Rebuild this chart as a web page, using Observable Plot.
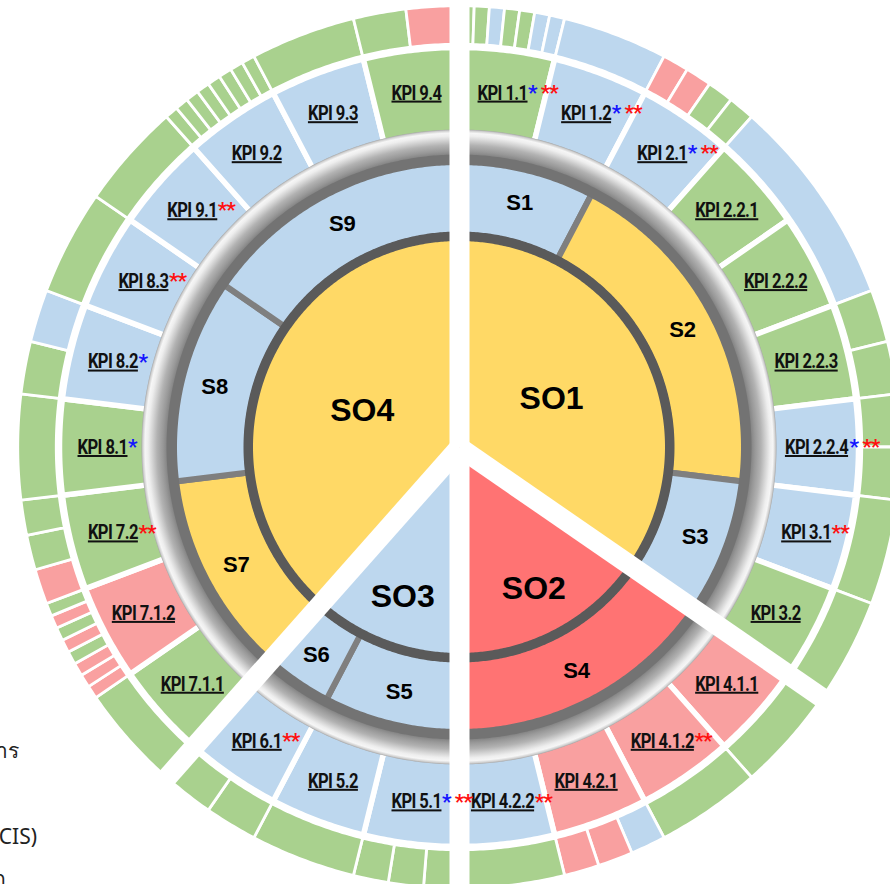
<!DOCTYPE html>
<html><head><meta charset="utf-8">
<script src="https://cdn.jsdelivr.net/npm/d3@7"></script>
<script src="https://cdn.jsdelivr.net/npm/@observablehq/plot@0.6"></script>
<style>
html,body{margin:0;padding:0;background:#fff;overflow:hidden}
#wrap{position:relative;width:890px;height:884px;overflow:hidden}
#wrap svg{position:absolute;left:0;top:0}
.legend{position:absolute;font-family:Tahoma,"Noto Sans",sans-serif;font-size:21px;color:#222;white-space:nowrap;text-align:right}
</style></head><body><div id="wrap">
<div class="legend" style="right:871px;top:734px">ผลการดำเนินการ</div>
<div class="legend" style="right:853px;top:820px">(ระบบ CIS)</div>
<div class="legend" style="right:884px;top:862px">ตัวชี้วัดหลัก</div>
</div>
<script>
const W = 890, H = 884, CX = 459, CY = 447;

// ---- data ----
const soNames = ["SO1", "SO2", "SO3", "SO4"];
const soColors = ["#FFD966", "#FF7373", "#BDD7EE", "#FFD966"];
const sNames = ["S1", "S2", "S3", "S4", "S5", "S6", "S7", "S8", "S9"];
const sParent = [0, 0, 0, 1, 2, 2, 3, 3, 3];
const sColors = ["#BDD7EE", "#FFD966", "#BDD7EE", "#FF7373", "#BDD7EE", "#BDD7EE", "#FFD966", "#BDD7EE", "#BDD7EE"];
const kpiNames = ["KPI 1.1", "KPI 1.2", "KPI 2.1", "KPI 2.2.1", "KPI 2.2.2", "KPI 2.2.3", "KPI 2.2.4", "KPI 3.1", "KPI 3.2",
  "KPI 4.1.1", "KPI 4.1.2", "KPI 4.2.1", "KPI 4.2.2", "KPI 5.1", "KPI 5.2", "KPI 6.1",
  "KPI 7.1.1", "KPI 7.1.2", "KPI 7.2", "KPI 8.1", "KPI 8.2", "KPI 8.3", "KPI 9.1", "KPI 9.2", "KPI 9.3", "KPI 9.4"];
const kpiParent = [0, 0, 1, 1, 1, 1, 1, 2, 2, 3, 3, 3, 3, 4, 4, 5, 6, 6, 6, 7, 7, 7, 8, 8, 8, 8];
const kpiStatus = ["G", "B", "B", "G", "G", "G", "B", "B", "G", "R", "R", "R", "B", "B", "B", "B", "G", "R", "G", "G", "B", "B", "B", "B", "B", "G"];
const kpiBlueStar = [1, 1, 1, 0, 0, 0, 1, 0, 0, 0, 0, 0, 0, 1, 0, 0, 0, 0, 0, 1, 1, 0, 0, 0, 0, 0];
const kpiRedStar  = [1, 1, 1, 0, 0, 0, 1, 1, 0, 0, 1, 0, 1, 1, 0, 1, 0, 0, 1, 0, 0, 1, 1, 0, 0, 0];
// outer ring: each group covers `outerSpan` KPIs, split equally into its statuses
const outerSpan = [1, 1, 1, 2, 1, 1, 1, 1, 1, 1, 1, 1, 1, 1, 1, 1, 1, 1, 1, 1, 1, 1, 1, 1, 1];
const outerStatus = ["GGBGGBB", "B", "RRGG", "B", "GG", "GG", "G", "G",
  "G", "G", "BRR", "G",
  "GGG", "G", "GG",
  "G", "RRRGRGRG", "RGG", "G", "GB", "G", "G", "GGGGGGGG", "G", "GR"];
const statusColors = {G: "#A9D18E", B: "#BDD7EE", R: "#F9A0A0"};

// ---- geometry helpers (polar -> plot units) ----
const unit = 360 / kpiNames.length;
const pol = (r, deg) => { const a = deg * Math.PI / 180; return [r * Math.sin(a), -r * Math.cos(a)]; };
function arc(id, a0, a1, r0, r1, fill) {
  const n = Math.max(2, Math.ceil((a1 - a0) / 0.5)), pts = [];
  for (let k = 0; k <= n; k++) {
    const a = a0 + (a1 - a0) * k / n, [xo, yo] = pol(r1, a), [xi, yi] = pol(r0, a);
    pts.push({id, fill, x1: xo, y1: yo, x2: xi, y2: yi});
  }
  return pts;
}

// KPI ring
const kpiArcs = [], kpiLabels = [];
kpiNames.forEach((name, i) => {
  const a0 = i * unit, a1 = (i + 1) * unit;
  kpiArcs.push(...arc("k" + i, a0, a1, 312, 399.5, statusColors[kpiStatus[i]]));
  const [x, y] = pol(357, (a0 + a1) / 2);
  kpiLabels.push({x, y, text: name, blue: kpiBlueStar[i], red: kpiRedStar[i]});
});
// S ring
const sArcs = [], sLabels = [];
sNames.forEach((name, s) => {
  const idx = kpiParent.map((p, i) => p === s ? i : -1).filter(i => i >= 0);
  const a0 = idx[0] * unit, a1 = (idx[idx.length - 1] + 1) * unit;
  sArcs.push(...arc("s" + s, a0, a1, 212, 290, sColors[s]));
  const [x, y] = pol(252, (a0 + a1) / 2);
  sLabels.push({x, y, text: name});
});
// SO core
const soArcs = [], soLabels = [], soBounds = [];
soNames.forEach((name, o) => {
  const idx = kpiParent.map((p, i) => sParent[p] === o ? i : -1).filter(i => i >= 0);
  const a0 = idx[0] * unit, a1 = (idx[idx.length - 1] + 1) * unit;
  soArcs.push(...arc("o" + o, a0, a1, 0, 210, soColors[o]));
  const r = (a1 - a0) > 100 ? 104 : 160;
  const [x, y] = pol(r, (a0 + a1) / 2);
  soLabels.push({x, y, text: name});
  const [bx, by] = pol(480, a0);
  soBounds.push({x2: bx, y2: by});
});
// outer ring
const outerArcs = [];
let u = 0;
outerStatus.forEach((st, g) => {
  const span = outerSpan[g], n = st.length;
  for (let j = 0; j < n; j++) {
    const a0 = (u + span * j / n) * unit, a1 = (u + span * (j + 1) / n) * unit;
    outerArcs.push(...arc("out" + g + "_" + j, a0, a1, 402.75, 441.25, statusColors[st[j]]));
  }
  u += span;
});
const ring = (id, r0, r1, fill) => arc(id, 0, 360, r0, r1, fill);

const areaOpts = {x1: "x1", y1: "y1", x2: "x2", y2: "y2", z: "id"};
const svg = Plot.plot({
  width: W, height: H, margin: 0,
  x: {domain: [-CX, W - CX], range: [0, W], axis: null},
  y: {domain: [-CY, H - CY], range: [0, H], axis: null},
  color: {type: "identity"},
  marks: [
    Plot.area(outerArcs, {...areaOpts, fill: "fill", stroke: "white", strokeWidth: 2.8}),
    Plot.area(kpiArcs, {...areaOpts, fill: "fill", stroke: "white", strokeWidth: 5.5}),
    Plot.area(sArcs, {...areaOpts, fill: "fill", stroke: "#7f7f7f", strokeWidth: 6}),
    Plot.area(ring("band", 282, 294), {...areaOpts, fill: "#737373"}),
    Plot.area(ring("bevel", 292.5, 317.5), {...areaOpts, fill: "url(#bevel)"}),
    Plot.area(soArcs, {...areaOpts, fill: "fill"}),
    Plot.area(ring("dark", 206, 215.5), {...areaOpts, fill: "#5a5a5a"}),
    Plot.link(soBounds, {x1: () => 0, y1: () => 0, x2: "x2", y2: "y2", stroke: "white", strokeWidth: 20, strokeLinecap: "butt"}),
    Plot.text(kpiLabels, {x: "x", y: "y", text: "text", fontFamily: "Roboto", fontWeight: "bold", fontSize: 20, fill: "#111"}),
    Plot.text(sLabels, {x: "x", y: "y", text: "text", fontFamily: "Liberation Sans", fontWeight: "bold", fontSize: 22, fill: "#000"}),
    Plot.text(soLabels, {x: "x", y: "y", text: "text", fontFamily: "Liberation Sans", fontWeight: "bold", fontSize: 32, fill: "#000"})
  ]
});
document.getElementById("wrap").append(svg);

// gradient for the silver bevel ring
const NS = "http://www.w3.org/2000/svg";
const defs = document.createElementNS(NS, "defs");
const grad = document.createElementNS(NS, "radialGradient");
grad.setAttribute("id", "bevel");
grad.setAttribute("gradientUnits", "userSpaceOnUse");
grad.setAttribute("cx", CX); grad.setAttribute("cy", CY); grad.setAttribute("r", 317.5);
[[292.5, "#858585"], [296, "#989898"], [302, "#b2b2b2"], [307, "#d4d4d4"], [311, "#eeeeee"], [314, "#f6f6f6"], [316.3, "#cfcfcf"], [317.5, "#a8a8a8"]]
  .forEach(([r, c]) => {
    const st = document.createElementNS(NS, "stop");
    st.setAttribute("offset", r / 317.5); st.setAttribute("stop-color", c);
    grad.append(st);
  });
defs.append(grad);
svg.insertBefore(defs, svg.firstChild);

// condensed, underlined KPI labels with coloured asterisks
const SX = 0.83;
const byName = new Map(kpiLabels.map(d => [d.text, d]));
svg.querySelectorAll("text").forEach(t => {
  const d = byName.get(t.textContent);
  if (!d) return;
  const tr = t.getAttribute("transform") || "";
  t.style.letterSpacing = "-0.7px";
  t.style.textDecoration = "underline";
  t.setAttribute("transform", tr + ` scale(${SX},1)`);
  if (!d.blue && !d.red) return;
  const bb = t.getBBox();
  const s = document.createElementNS(NS, "text");
  s.setAttribute("transform", tr);
  if (t.getAttribute("y")) s.setAttribute("y", t.getAttribute("y"));
  if (t.getAttribute("dy")) s.setAttribute("dy", t.getAttribute("dy"));
  s.setAttribute("x", (bb.x + bb.width) * SX + 0.5);
  s.setAttribute("style", "text-anchor:start;letter-spacing:-1px;font-size:21px;font-family:Roboto;font-weight:bold");
  if (d.blue) { const b = document.createElementNS(NS, "tspan"); b.setAttribute("fill", "#1414ff"); b.textContent = "*"; s.append(b); }
  if (d.red) { const r = document.createElementNS(NS, "tspan"); r.setAttribute("fill", "#ff1010"); r.textContent = (d.blue ? " " : "") + "**"; s.append(r); }
  t.parentNode.append(s);
});
</script></body></html>
